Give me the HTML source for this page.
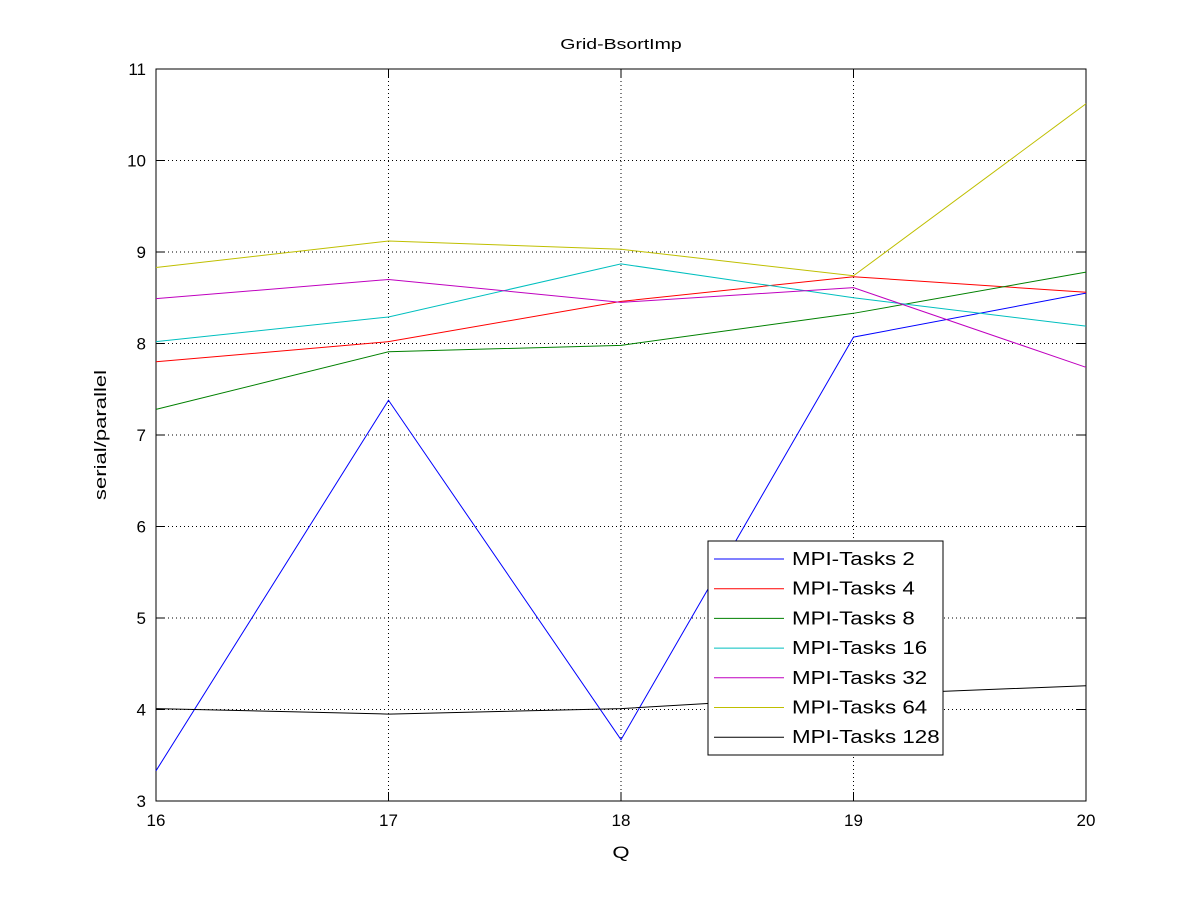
<!DOCTYPE html>
<html><head><meta charset="utf-8"><style>
body{margin:0;background:#fff}
svg text{font-family:"Liberation Sans",sans-serif;fill:#000}
</style></head><body>
<svg id="chart" width="1200" height="900">
<rect width="1200" height="900" fill="#fff"/>
<g id="grid"></g>
<rect x="156" y="69" width="930" height="732" fill="none" stroke="#000"/>
<g id="ticks"></g>
<g id="series"></g>
<text class="st" x="621" y="49" text-anchor="middle" font-size="15">Grid-BsortImp</text>
<text class="st" x="621" y="858" text-anchor="middle" font-size="17">Q</text>
<text class="st" transform="translate(106,435) rotate(-90)" text-anchor="middle" font-size="17">serial/parallel</text>
<g id="legend"></g>
</svg>
<script>
const categories=[16,17,18,19,20];
const xTicks=[16,17,18,19,20];
const yTicks=[3,4,5,6,7,8,9,10,11];
const seriesNames=["MPI-Tasks 2","MPI-Tasks 4","MPI-Tasks 8","MPI-Tasks 16","MPI-Tasks 32","MPI-Tasks 64","MPI-Tasks 128"];
const seriesColors=["#0000ff","#ff0000","#008000","#00bfbf","#bf00bf","#bfbf00","#000000"];
const s2=[3.33,7.38,3.67,8.07,8.55];
const s4=[7.80,8.02,8.46,8.73,8.56];
const s8=[7.28,7.91,7.98,8.33,8.78];
const s16=[8.02,8.29,8.87,8.50,8.19];
const s32=[8.49,8.70,8.45,8.61,7.74];
const s64=[8.83,9.12,9.03,8.74,10.62];
const s128=[4.01,3.95,4.01,4.16,4.26];
const allSeries=[s2,s4,s8,s16,s32,s64,s128];
const NS="http://www.w3.org/2000/svg";
const X=v=>156+(v-16)/4*930, Y=v=>801-(v-3)/8*732;
function mk(t,a,p){const e=document.createElementNS(NS,t);for(const k in a)e.setAttribute(k,a[k]);p.appendChild(e);return e;}
const g=document.getElementById('grid'),tk=document.getElementById('ticks'),sg=document.getElementById('series'),lg=document.getElementById('legend');
xTicks.forEach(v=>{
 if(v>16&&v<20){const l=mk('line',{x1:X(v),x2:X(v),y1:69,y2:801,stroke:'#000','stroke-dasharray':'1,3'},g);
 
 }
 const t=mk('text',{x:X(v),y:826,'text-anchor':'middle','font-size':'17'},tk);t.textContent=v;
 
 
 mk('line',{x1:X(v),x2:X(v),y1:801,y2:792,stroke:'#000'},tk);mk('line',{x1:X(v),x2:X(v),y1:69,y2:78,stroke:'#000'},tk);
});
yTicks.forEach(v=>{
 if(v>3&&v<11){const l=mk('line',{x1:156,x2:1086,y1:Y(v),y2:Y(v),stroke:'#000','stroke-dasharray':'1,3'},g);
 
 }
 const t=mk('text',{x:146,y:Y(v)+6,'text-anchor':'end','font-size':'17'},tk);t.textContent=v;
 
 
 mk('line',{x1:156,x2:165,y1:Y(v),y2:Y(v),stroke:'#000'},tk);mk('line',{x1:1086,x2:1077,y1:Y(v),y2:Y(v),stroke:'#000'},tk);
});
allSeries.forEach((s,i)=>{
 const p=mk('polyline',{points:s.map((v,j)=>X(categories[j])+','+Y(v)).join(' '),fill:'none',stroke:seriesColors[i],'stroke-width':1},sg);
 
 
});
const box=mk('rect',{x:708,y:541,width:235,height:214,fill:'#fff',stroke:'#000'},lg);


seriesNames.forEach((n,i)=>{
 const y=559+i*29.7;
 mk('line',{x1:714,x2:784,y1:y,y2:y,stroke:seriesColors[i]},lg);
 const t=mk('text',{x:792,y:y+6,'font-size':'18',class:'lt'},lg);t.textContent=n;
 
 
});
function stretch(el,f){const w=el.getComputedTextLength();el.setAttribute('textLength',w*f);el.setAttribute('lengthAdjust','spacingAndGlyphs');}
document.querySelectorAll('.lt').forEach(e=>stretch(e,1.24));
document.querySelectorAll('.st').forEach(e=>stretch(e,1.3));
</script>
</body></html>
